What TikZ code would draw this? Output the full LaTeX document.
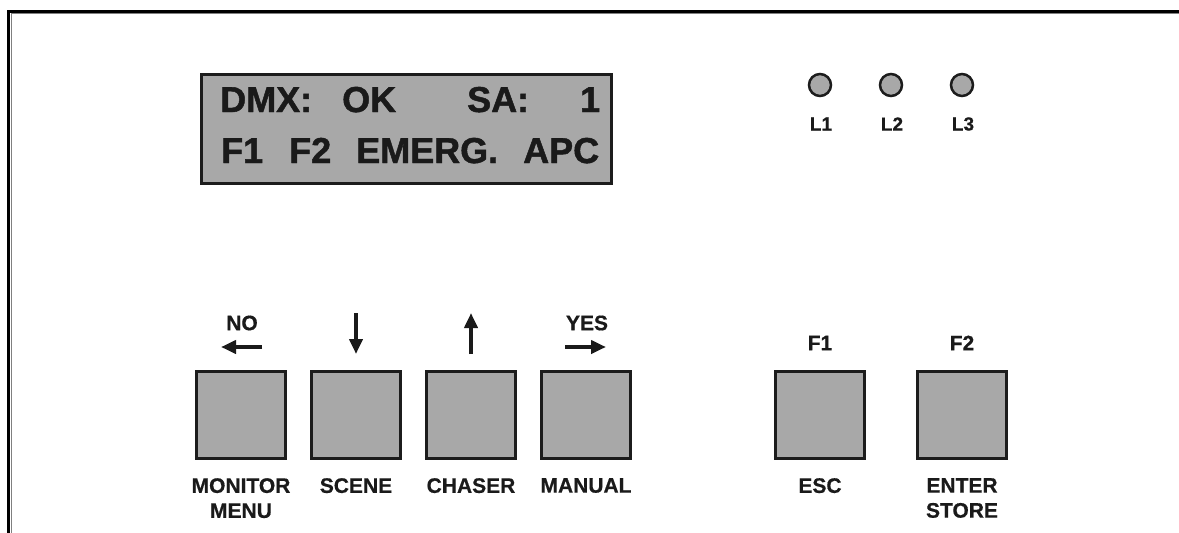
\documentclass[tikz,border=0pt]{standalone}
\usepackage{fontspec}
\setmainfont{Liberation Sans}
\newfontfamily\heavy{Liberation Sans}[BoldFeatures={FakeBold=1.3}]
\newfontfamily\semiheavy{Liberation Sans}[BoldFeatures={FakeBold=0.6}]
\usetikzlibrary{arrows.meta}
\definecolor{panelgray}{HTML}{A8A8A8}
\definecolor{edge}{HTML}{1C1C1C}
\definecolor{ink}{HTML}{1A1A1A}
\tikzset{
  btn/.style={draw=edge, line width=3pt, fill=panelgray, minimum width=89pt, minimum height=87pt, inner sep=0pt},
  led/.style={circle, draw=edge, line width=2.5pt, fill=panelgray, minimum size=22pt, inner sep=0pt},
  lbl/.style={text=ink, font=\semiheavy\bfseries\fontsize{21}{25}\selectfont, align=center, inner sep=0pt},
  ledlbl/.style={text=ink, font=\semiheavy\bfseries\fontsize{19}{22}\selectfont, inner sep=0pt},
  lcdtxt/.style={text=ink, font=\heavy\bfseries\fontsize{36}{40}\selectfont, inner sep=0pt, anchor=base west},
  dirarrow/.style={draw=ink, line width=4.5pt, -{Triangle[length=15pt,width=13pt]}}
}
\begin{document}
\begin{tikzpicture}[x=1pt,y=-1pt]
\useasboundingbox (0,0) rectangle (1179,533);
% frame
\draw[black, line width=3pt] (8.5,540) -- (8.5,11) -- (1185,11);
\draw[gray, line width=1.5pt] (11.5,540) -- (11.5,13.7) -- (1185,13.7);
% LCD
\node[draw=edge, line width=3pt, fill=panelgray, minimum width=410pt, minimum height=109pt, inner sep=0pt] (lcd) at (406.5,129) {};
\node[lcdtxt] (t1) at (220,112) {DMX:};
\node[lcdtxt] (t2) at (342,112) {OK};
\node[lcdtxt] (t3) at (467,112) {SA:};
\node[lcdtxt] (t4) at (580,112) {1};
\node[lcdtxt] (t5) at (221,163) {F1};
\node[lcdtxt] (t6) at (289,163) {F2};
\node[lcdtxt] (t7) at (356,163) {EMERG.};
\node[lcdtxt] (t8) at (523,163) {APC};
% LEDs
\node[led] (l1) at (820,85) {};
\node[led] (l2) at (891,85) {};
\node[led] (l3) at (962,85) {};
\node[ledlbl] (l1t) at (821,124) {L1};
\node[ledlbl] (l2t) at (892,124) {L2};
\node[ledlbl] (l3t) at (963,124) {L3};
% buttons
\node[btn] (b1) at (241,415) {};
\node[btn] (b2) at (356,415) {};
\node[btn] (b3) at (471,415) {};
\node[btn] (b4) at (586,415) {};
\node[btn] (b5) at (820,415) {};
\node[btn] (b6) at (962,415) {};
% labels above
\node[lbl] (no) at (242,323) {NO};
\node[lbl] (yes) at (587,323) {YES};
\node[lbl] (f1) at (820,343) {F1};
\node[lbl] (f2) at (962,343) {F2};
\coordinate (a1s) at (262,347); \coordinate (a1e) at (221,347);
\coordinate (a2s) at (356,313); \coordinate (a2e) at (356,354);
\coordinate (a3s) at (471,354); \coordinate (a3e) at (471,313);
\coordinate (a4s) at (565,347); \coordinate (a4e) at (606,347);
\draw[dirarrow] (a1s) -- (a1e);
\draw[dirarrow] (a2s) -- (a2e);
\draw[dirarrow] (a3s) -- (a3e);
\draw[dirarrow] (a4s) -- (a4e);
% labels below
\node[lbl, anchor=north] (m1) at (241,478) {MONITOR\\MENU};
\node[lbl, anchor=north] (m2) at (356,478) {SCENE};
\node[lbl, anchor=north] (m3) at (471,478) {CHASER};
\node[lbl, anchor=north] (m4) at (586,478) {MANUAL};
\node[lbl, anchor=north] (m5) at (820,478) {ESC};
\node[lbl, anchor=north] (m6) at (962,478) {ENTER\\STORE};
\end{tikzpicture}
\end{document}
